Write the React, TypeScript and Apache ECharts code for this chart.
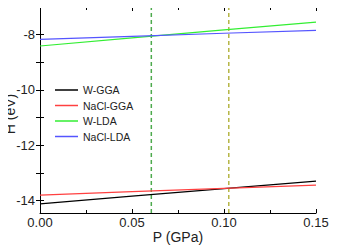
import React, { useEffect, useRef } from "react";
import * as echarts from "echarts";

const pressure = [0, 0.05, 0.1, 0.15];
const wGGA = [-14.12, -13.84, -13.57, -13.3];
const naclGGA = [-13.8, -13.68, -13.56, -13.44];
const wLDA = [-8.41, -8.12, -7.83, -7.55];
const naclLDA = [-8.17, -8.06, -7.95, -7.845];
const seriesNames = ["W-GGA", "NaCl-GGA", "W-LDA", "NaCl-LDA"];
const seriesColors = ["#000000", "#ff4040", "#33ee33", "#5555ff"];
const transitionP = [0.0605, 0.1026];
const transitionColors = ["#4daa4d", "#b5b545"];
const yTickValues = [-14, -13, -12, -11, -10, -9, -8, -7];
const yLabelValues = [-14, -12, -10, -8];
const yTitle = "H (eV)";
const xTitle = "P (GPa)";
const xMin = 0, xMax = 0.15, yMin = -14.45, yMax = -7;

export default function App() {
  const ref = useRef<HTMLDivElement>(null);
  useEffect(() => {
    const chart = echarts.init(ref.current!, null, { renderer: "svg" });
    const font = "Liberation Sans, Arial, sans-serif";
    const dataSets = [wGGA, naclGGA, wLDA, naclLDA];
    const lineSeries = dataSets.map((vals, i) => ({
      name: seriesNames[i],
      type: "line",
      data: pressure.map((p, j) => [p, vals[j]]),
      showSymbol: false,
      lineStyle: { color: seriesColors[i], width: 1.2 },
      itemStyle: { color: seriesColors[i] },
      z: 3,
    }));
    const dashSeries = transitionP.map((p, i) => ({
      name: "t" + i,
      type: "line",
      data: [[p, yMin], [p, yMax]],
      showSymbol: false,
      lineStyle: { color: transitionColors[i], width: 1.5, type: [4, 3] },
      z: 2,
    }));
    const axisCommon = {
      axisLine: { lineStyle: { color: "#000", width: 1 } },
      splitLine: { show: false },
    };
    chart.setOption({
      animation: false,
      grid: { left: 40, top: 7, width: 276, height: 206, containLabel: false, outerBoundsMode: "none" },
      graphic: [
        {
          type: "text",
          x: 10,
          y: 114,
          rotation: Math.PI / 2,
          style: {
            text: yTitle,
            align: "center",
            verticalAlign: "middle",
            fontFamily: font,
            fontSize: 14,
            fill: "#222",
          },
        },
      ],
      legend: {
        data: seriesNames.map((n) => ({ name: n, icon: "rect" })),
        orient: "vertical",
        left: 55,
        top: 84,
        itemWidth: 23,
        itemHeight: 1.5,
        itemGap: 3.5,
        padding: 0,
        textStyle: { fontFamily: font, fontSize: 10.5, color: "#222", lineHeight: 12 },
      },
      xAxis: [
        {
          type: "value",
          min: xMin,
          max: xMax,
          interval: 0.05,
          ...axisCommon,
          name: xTitle,
          nameLocation: "middle",
          nameGap: 17,
          nameMoveOverlap: false,
          nameTextStyle: { fontFamily: font, fontSize: 14, color: "#222" },
          axisTick: { inside: true, length: 4, lineStyle: { color: "#000" } },
          minorTick: { show: true, splitNumber: 2, length: 3, lineStyle: { color: "#000" } },
          axisLabel: {
            fontFamily: font,
            fontSize: 13,
            color: "#222",
            margin: 3,
            formatter: (v: number) => v.toFixed(2),
          },
        },
        {
          type: "value",
          position: "top",
          min: xMin,
          max: xMax,
          interval: 0.05,
          ...axisCommon,
          axisTick: { inside: true, length: 4, lineStyle: { color: "#000" } },
          minorTick: { show: true, splitNumber: 2, length: 3, lineStyle: { color: "#000" } },
          axisLabel: { show: false },
        },
      ],
      yAxis: [
        {
          type: "value",
          min: yMin,
          max: yMax,
          ...axisCommon,
          axisTick: { inside: true, length: 4, customValues: yTickValues, lineStyle: { color: "#000" } },
          axisLabel: {
            fontFamily: font,
            fontSize: 13,
            color: "#222",
            margin: 5,
            customValues: yLabelValues,
          },
        },
        {
          type: "value",
          position: "right",
          min: yMin,
          max: yMax,
          ...axisCommon,
          axisTick: { inside: true, length: 4, customValues: yTickValues, lineStyle: { color: "#000" } },
          axisLabel: { show: false },
        },
      ],
      series: [...lineSeries, ...dashSeries],
    });
    return () => chart.dispose();
  }, []);
  return <div ref={ref} style={{ width: 339, height: 250, marginLeft: -8, marginTop: -8 }} />;
}
